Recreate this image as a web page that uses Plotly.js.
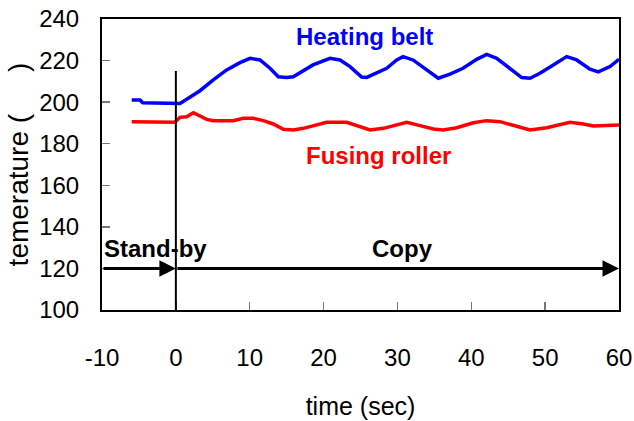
<!DOCTYPE html>
<html>
<head>
<meta charset="utf-8">
<script src="https://cdn.plot.ly/plotly-3.0.1.min.js"></script>
<style>html,body{margin:0;padding:0;background:#fff;}#chart{width:634px;height:421px;}</style>
</head>
<body>
<div id="chart"></div>
<script>
// Heating belt temperature (blue)
const beltTime = [-5.98,-4.85,-4.49,-2.5,-0.12,0.56,1.47,3.27,5.07,6.88,8.68,10.04,11.39,12.75,13.87,15.0,15.9,17.26,18.57,20.87,22.22,23.58,25.16,25.84,27.19,28.55,29.90,30.76,32.11,33.96,35.53,37.12,38.88,40.73,42.09,43.44,45.24,46.83,47.95,49.30,51.10,52.92,54.27,56.07,57.20,58.78,60.0];
const beltTemp = [201.0,201.0,199.7,199.7,199.7,199.4,201.4,205.5,210.7,215.5,219.0,221.1,220.3,216.3,212.2,211.9,212.2,215.1,217.9,221.1,220.3,217.1,212.1,211.9,213.9,216.3,220.3,221.9,220.3,215.5,211.5,213.5,216.3,220.6,223.0,221.1,216.3,211.8,211.5,213.9,217.9,221.9,220.3,215.9,214.6,217.1,220.6];
// Fusing roller temperature (red)
const rollerTime = [-5.98,-3,-0.12,0.56,1.47,2.37,3.27,4.17,5.07,7.78,9.13,10.49,11.84,13.19,14.55,15.9,17.26,18.6,20.42,23.13,24.93,26.29,28.09,29.90,31.26,33.06,34.86,36.21,38.02,40.28,42.09,43.89,46.15,47.95,50.21,52.46,53.37,55.17,56.52,60.0];
const rollerTemp = [190.6,190.5,190.3,192.7,193.0,194.9,193.5,191.7,191.1,191.1,192.2,192.2,191.1,189.5,186.9,186.6,187.4,188.5,190.3,190.3,188.2,186.6,187.4,189.0,190.3,188.7,187.1,186.6,187.7,190.1,191.1,190.6,188.5,186.6,187.7,189.8,190.3,189.5,188.5,189.0];
// Axis ticks
const xTickVals = [-10,0,10,20,30,40,50,60];
const xTickText = ['-10','0','10','20','30','40','50','60'];
const yTickVals = [100,120,140,160,180,200,220,240];
// Phases
const phaseNames = ['Stand-by','Copy'];
const phaseStart = [-10, 0];
const phaseEnd = [0, 60];
const phaseLevel = 120;
const phaseLabelX = [-2.8, 30.7];
const phaseLabelY = 129.5;
const startLine = {x: 0, yFrom: 100, yTo: 215};
const seriesNames = ['Heating belt','Fusing roller'];
const seriesLabelX = [25.6, 27.4];
const seriesLabelY = [231.8, 174.1];
const colors = ['#0000ff','#ff0000'];

const sans = "'Liberation Sans', Arial, sans-serif";

const traces = [
  {x: beltTime, y: beltTemp, mode:'lines', line:{color:colors[0], width:3.5}, name:seriesNames[0], hoverinfo:'skip'},
  {x: rollerTime, y: rollerTemp, mode:'lines', line:{color:colors[1], width:3.5}, name:seriesNames[1], hoverinfo:'skip'}
];

const annotations = [];
for (let i=0;i<phaseNames.length;i++){
  annotations.push({x:phaseEnd[i], y:phaseLevel, ax:phaseStart[i], ay:phaseLevel, xref:'x', yref:'y', axref:'x', ayref:'y', text:'', showarrow:true, arrowhead:2, arrowsize:1.1, arrowwidth:3, arrowcolor:'#000'});
  annotations.push({x:phaseLabelX[i], y:phaseLabelY, xref:'x', yref:'y', text:'<b>'+phaseNames[i]+'</b>', showarrow:false, font:{family:sans, size:24, color:'#000'}, xanchor:'center', yanchor:'middle'});
}
for (let i=0;i<seriesNames.length;i++){
  annotations.push({x:seriesLabelX[i], y:seriesLabelY[i], xref:'x', yref:'y', text:'<b>'+seriesNames[i]+'</b>', showarrow:false, font:{family:sans, size:24, color:colors[i]}, xanchor:'center', yanchor:'middle'});
}

const layout = {
  width:634, height:421,
  margin:{l:102, r:15, t:19, b:111},
  paper_bgcolor:'#fff', plot_bgcolor:'#fff',
  showlegend:false,
  xaxis:{range:[-10,60], tickmode:'array', tickvals:xTickVals, ticktext:xTickText, ticks:'inside', ticklen:8, tickcolor:'#777', tickwidth:1.5,
         showgrid:false, zeroline:false, showline:true, linecolor:'#000', linewidth:2, mirror:true,
         ticklabelstandoff:25, tickfont:{family:sans, size:24, color:'#000'},
         title:{text:'time (sec)', font:{family:sans, size:25, color:'#000'}, standoff:28}},
  yaxis:{range:[100,240], tickmode:'array', tickvals:yTickVals, ticks:'inside', ticklen:8, tickcolor:'#777', tickwidth:1.5,
         showgrid:false, zeroline:false, showline:true, linecolor:'#000', linewidth:2, mirror:true,
         ticklabelstandoff:16, tickfont:{family:sans, size:24, color:'#000'},
         title:{text:'temerature (\u3000\u2002)', font:{family:sans, size:28, color:'#000'}, standoff:2}},
  shapes:[{type:'line', xref:'x', yref:'y', x0:startLine.x, x1:startLine.x, y0:startLine.yFrom, y1:startLine.yTo, line:{color:'#000', width:2}}],
  annotations: annotations
};

Plotly.newPlot('chart', traces, layout, {displayModeBar:false, staticPlot:true});
</script>
</body>
</html>
